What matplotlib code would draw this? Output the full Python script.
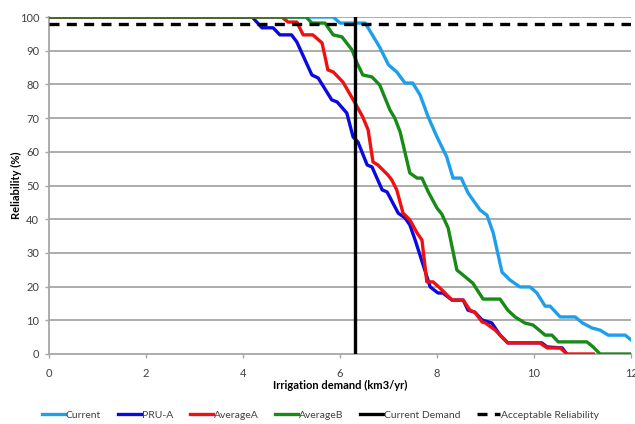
import matplotlib
matplotlib.use("Agg")
import matplotlib.pyplot as plt

plt.rcParams['font.family'] = ['Lato', 'DejaVu Sans']

current_x = [0, 5.86, 6.0, 6.52, 6.82, 7.0, 7.17, 7.34, 7.5, 7.65, 7.82, 8.0, 8.2, 8.33, 8.5, 8.64, 8.89,
             9.03, 9.16, 9.34, 9.5, 9.71, 9.92, 10.06, 10.23, 10.33, 10.54, 10.85, 11.0, 11.2, 11.36,
             11.53, 11.88, 12.0]
current_y = [100, 100, 98.2, 98.2, 91, 85.8, 83.7, 80.4, 80.4, 76.9, 70.3, 64.4, 58.5, 52.2, 52.2, 47.8,
             42.7, 41.2, 35.9, 24.3, 22, 19.9, 19.9, 18.1, 14.2, 14.2, 11, 11, 9.2, 7.7, 7.1, 5.6, 5.6, 4.2]

prua_x = [0, 4.19, 4.39, 4.62, 4.76, 5.0, 5.11, 5.42, 5.55, 5.83, 5.94, 6.14, 6.27, 6.37, 6.56, 6.66,
          6.87, 6.97, 7.2, 7.34, 7.44, 7.55, 7.86, 8.02, 8.12, 8.31, 8.54, 8.64, 8.78, 8.93, 9.13, 9.3,
          9.46, 10.16, 10.27, 10.58, 10.68]
prua_y = [100, 100, 96.8, 96.8, 94.7, 94.7, 92.6, 82.8, 81.9, 75.4, 74.8, 71.5, 64.4, 62.9, 56.1, 55.5,
          48.7, 48.1, 41.8, 40.4, 38.3, 33.8, 19.9, 18.1, 18.1, 16, 16, 13, 12.4, 10.1, 9.2, 5.6,
          3.3, 3.3, 2.1, 1.8, 0]

avga_x = [0, 4.8, 4.93, 5.11, 5.24, 5.44, 5.63, 5.75, 5.86, 6.06, 6.31, 6.47, 6.58, 6.68, 6.78, 6.99,
          7.07, 7.17, 7.3, 7.44, 7.59, 7.69, 7.79, 7.92, 8.06, 8.31, 8.54, 8.68, 8.78, 8.93, 9.0, 9.2,
          9.46, 10.12, 10.27, 10.54, 10.68, 11.22]
avga_y = [100, 100, 98.5, 98.5, 94.7, 94.7, 92.3, 84.3, 83.7, 80.7, 74.5, 70.3, 66.5, 57.0, 56.1, 53.1,
          51.6, 48.7, 41.8, 39.8, 35.9, 33.8, 21.4, 21.4, 19.6, 16, 16, 13, 12.4, 9.5, 9.2, 7.1,
          3.3, 3.3, 1.8, 1.8, 0, 0]

avgb_x = [0, 5.3, 5.42, 5.69, 5.86, 6.04, 6.25, 6.35, 6.47, 6.66, 6.82, 7.03, 7.13, 7.24, 7.44, 7.59,
          7.69, 7.82, 8.0, 8.1, 8.23, 8.41, 8.54, 8.74, 8.95, 9.3, 9.46, 9.61, 9.81, 9.98, 10.23, 10.37,
          10.5, 11.09, 11.22, 11.36, 12.0]
avgb_y = [100, 100, 98.2, 98.2, 94.7, 94.1, 90.2, 86.4, 82.8, 82.2, 79.8, 72.4, 70, 65.9, 53.7, 52.2,
          52.2, 48.1, 43.3, 41.5, 37.4, 24.9, 23.4, 21, 16.3, 16.3, 13, 11, 9.2, 8.6, 5.6, 5.6,
          3.6, 3.6, 2.1, 0, 0]

current_demand = 6.31
acceptable_reliability = 98

x_ticks = [0, 2, 4, 6, 8, 10, 12]
y_ticks = [0, 10, 20, 30, 40, 50, 60, 70, 80, 90, 100]

fig = plt.figure(figsize=(6.35, 4.24), dpi=100)
ax = fig.add_axes([49/635, 1-354/424, (631-49)/635, (354-17)/424])

grid_c = '#A6A6A6'
for y in y_ticks[1:]:
    ax.axhline(y, color=grid_c, lw=1.3, zorder=1)

lw = 2.4
ax.plot(current_x, current_y, color='#1E9FEA', lw=lw, label='Current', zorder=3)
ax.plot(prua_x, prua_y, color='#0A0AE0', lw=lw, label='PRU-A', zorder=3)
ax.plot(avga_x, avga_y, color='#F01010', lw=lw, label='AverageA', zorder=3)
ax.plot(avgb_x, avgb_y, color='#178A17', lw=lw, label='AverageB', zorder=3)
ax.axvline(current_demand, color='black', lw=2.4, label='Current Demand', zorder=4)
ax.axhline(acceptable_reliability, color='black', lw=2.4, ls=(0, (3, 2.2)), label='Acceptable Reliability', zorder=4)

ax.set_xlim(0, 12)
ax.set_ylim(0, 100)
ax.set_xticks(x_ticks)
ax.set_yticks(y_ticks)
for s in ['top', 'right']:
    ax.spines[s].set_visible(False)
for s in ['left', 'bottom']:
    ax.spines[s].set_color(grid_c)
    ax.spines[s].set_linewidth(1.3)
ax.tick_params(axis='both', colors=grid_c, labelcolor='#404040', labelsize=8, length=3, width=1)
ax.tick_params(axis='x', pad=7)
ax.tick_params(axis='y', pad=4)

ax.set_xlabel('Irrigation demand (km3/yr)', fontsize=8, fontweight='bold', labelpad=1)
ax.set_ylabel('Reliability (%)', fontsize=8, fontweight='bold')
ax.yaxis.set_label_coords(-0.046, 0.5)

leg = fig.legend(loc='lower center', bbox_to_anchor=(0.505, -0.012), ncol=6, frameon=False,
                 fontsize=7.5, handlelength=2.2, handletextpad=0.1, columnspacing=1.6)
for t in leg.get_texts():
    t.set_color('#404040')

fig.savefig('out.png', dpi=100)
